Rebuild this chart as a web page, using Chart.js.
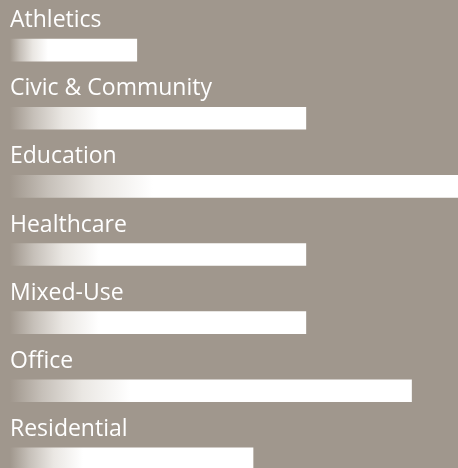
<!DOCTYPE html>
<html>
<head>
<meta charset="utf-8">
<script src="https://cdn.jsdelivr.net/npm/chart.js@4/dist/chart.umd.min.js"></script>
<style>
  html, body { margin: 0; padding: 0; background: #a0978d; overflow: hidden; }
  #wrap { position: relative; width: 458px; height: 500px; }
</style>
</head>
<body>
<div id="wrap"><canvas id="chart"></canvas></div>
<script>
// ─── Data ────────────────────────────────────────────────────────
const categories = ["Athletics", "Civic & Community", "Education", "Healthcare", "Mixed-Use", "Office", "Residential"];
const values     = [12, 28, 45, 28, 28, 38, 23];
const X_MAX = 42.4;

// ─── Bar gradient: warm grey on the left fading into white ───────
function barGradient(context) {
  const chart = context.chart;
  const { ctx, chartArea, scales } = chart;
  if (!chartArea) return "#ffffff";
  const x0 = scales.x.getPixelForValue(0);
  const x1 = scales.x.getPixelForValue(values[context.dataIndex]);
  const g = ctx.createLinearGradient(x0, 0, x1, 0);
  g.addColorStop(0, "#a0978d");
  g.addColorStop(0.08, "#c6c0b9");
  g.addColorStop(0.18, "#eae7e3");
  g.addColorStop(0.3, "#ffffff");
  g.addColorStop(1, "#ffffff");
  return g;
}

// Category names drawn above each bar
const topLabels = {
  id: "topLabels",
  afterDatasetsDraw(chart) {
    const { ctx, scales } = chart;
    const meta = chart.getDatasetMeta(0);
    ctx.save();
    ctx.font = '23px "Open Sans", sans-serif';
    ctx.fillStyle = "#ffffff";
    ctx.textAlign = "left";
    ctx.textBaseline = "alphabetic";
    meta.data.forEach((bar, i) => {
      const top = bar.y - bar.height / 2;
      ctx.fillText(categories[i], scales.x.getPixelForValue(0), top - 12);
    });
    ctx.restore();
  },
};

new Chart(document.getElementById("chart"), {
  type: "bar",
  data: {
    labels: categories,
    datasets: [{
      data: values,
      backgroundColor: barGradient,
      borderWidth: 0,
      barThickness: 22,
    }],
  },
  options: {
    indexAxis: "y",
    responsive: true,
    maintainAspectRatio: false,
    animation: false,
    layout: { padding: { left: 10, right: 0, top: 16, bottom: 7 } },
    plugins: { legend: { display: false }, tooltip: { enabled: false } },
    scales: {
      x: { display: false, min: 0, max: X_MAX },
      y: { display: false },
    },
  },
  plugins: [topLabels],
});
</script>
</body>
</html>
